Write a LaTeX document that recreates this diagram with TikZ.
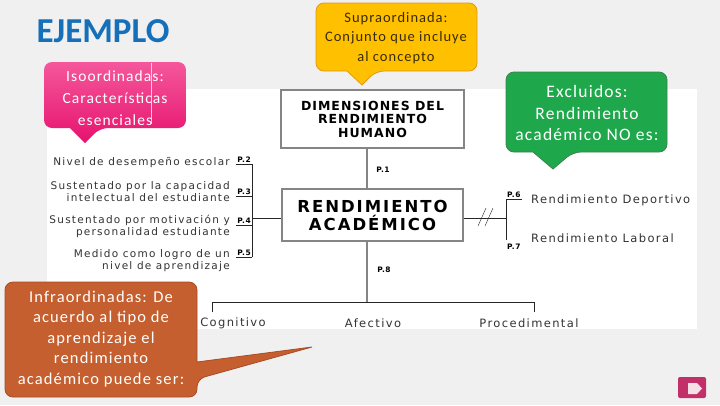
\documentclass[tikz,border=0pt]{standalone}
\usepackage{fontspec}
\setmainfont{Carlito}
\newfontfamily\callfont{Carlito}[LetterSpace=7]
\newfontfamily\headfont{DejaVu Sans}[LetterSpace=8]
\newfontfamily\bigheadfont{DejaVu Sans}[LetterSpace=12]
\newfontfamily\diagfont{DejaVu Sans}[LetterSpace=12]
\definecolor{bggray}{HTML}{F0F0F0}
\definecolor{titleblue}{HTML}{1570B9}
\definecolor{pinktop}{HTML}{F5579B}
\definecolor{pinkbot}{HTML}{E6136E}
\definecolor{supfill}{HTML}{FFC000}
\definecolor{supline}{HTML}{E39A12}
\definecolor{suptext}{HTML}{3A2A05}
\definecolor{excfill}{HTML}{1FA84B}
\definecolor{excline}{HTML}{3E8150}
\definecolor{inffill}{HTML}{C65F2F}
\definecolor{infline}{HTML}{A94C24}
\definecolor{framegray}{HTML}{858585}
\definecolor{nextpink}{HTML}{C2306A}
\begin{document}
\begin{tikzpicture}[x=1pt,y=-1pt,
  frame/.style={draw=framegray,line width=2.4pt,fill=white,align=center,inner sep=0pt},
  tag/.style={font=\headfont\bfseries\fontsize{7.5}{8}\selectfont,inner sep=1pt},
  lefttxt/.style={font=\diagfont\fontsize{10.5}{12}\selectfont,align=right,anchor=east,inner sep=0pt,text=black!80},
  righttxt/.style={font=\diagfont\fontsize{11.5}{12}\selectfont,inner sep=0pt,text=black!80},
  calltxt/.style={align=center,inner sep=0pt}]
% background and slide picture
\fill[bggray] (0,0) rectangle (720,405);
\fill[white] (47,89) rectangle (697,329);
\node[text=titleblue,font=\bfseries\fontsize{35}{38}\selectfont] (title) at (103,31) {EJEMPLO};

% central boxes
\node[frame,minimum width=183pt,minimum height=58pt,font=\headfont\bfseries\fontsize{12.5}{13.5}\selectfont] (dim) at (372.5,119) {DIMENSIONES DEL\\RENDIMIENTO\\HUMANO};
\node[frame,minimum width=181pt,minimum height=52pt,font=\bigheadfont\bfseries\fontsize{16.5}{18}\selectfont] (rend) at (372.5,215) {RENDIMIENTO\\ACADÉMICO};
\coordinate (bj) at (367,302);
\draw[framegray,line width=1.8pt] (dim.south -| bj) -- (rend.north -| bj);
\draw[framegray,line width=1.8pt] (rend.south -| bj) -- (bj);
\node[tag] (p1) at (383,170) {P.1};
\node[tag] (p8) at (384,270) {P.8};

% lower branch
\coordinate (cl) at (212,302);
\coordinate (cr) at (534,302);
\draw[black!85] (cl) ++(0,10) -- (cl) -- (cr) -- ++(0,10);
\node[righttxt] (cog) at (233,323) {Cognitivo};
\node[righttxt] (afe) at (373,323) {Afectivo};
\node[righttxt] (pro) at (529,323) {Procedimental};

% left branch
\coordinate (b2) at (252,164);
\coordinate (b3) at (252,196);
\coordinate (b4) at (252,225);
\coordinate (b5) at (252,257);
\coordinate (lj) at (252,218);
\draw[black!85] (b2) -- (b5);
\draw[black!85] (lj) -- (lj -| rend.west);
\foreach \n in {2,...,5}
{
    \node[tag,anchor=south east] (p\n) at (b\n) {P.\n};
    \draw[black!85] (p\n.south west) -- (b\n);
}
\node[lefttxt] (t2) at (230,163) {Nivel de desempeño escolar};
\node[lefttxt] (t3) at (230,192) {Sustentado por la capacidad\\intelectual del estudiante};
\node[lefttxt] (t4) at (230,226) {Sustentado por motivación y\\personalidad estudiante};
\node[lefttxt] (t5) at (230,261) {Medido como logro de un\\nivel de aprendizaje};

% right branch
\coordinate (b6) at (506,199);
\coordinate (b7) at (506,240);
\coordinate (rj) at (506,218);
\draw[black!85] (b6) -- (b7);
\draw[black!85] (rend.east |- rj) -- (rj);
\draw[black!85] (478,226) -- (486,208) (485,226) -- (493,208);
\node[tag,anchor=south west] (p6) at (b6) {P.6};
\draw[black!85] (b6) -- (p6.south east);
\node[tag,anchor=north west] (p7) at (506,243) {P.7};
\node[righttxt,anchor=west] (dep) at (531,200) {Rendimiento Deportivo};
\node[righttxt,anchor=west] (lab) at (531,238) {Rendimiento Laboral};

% callouts
\shade[top color=pinktop,bottom color=pinkbot] (85,143) -- (70,128) [rounded corners=8] -- (44,128) -- (44,62) -- (186,62) -- (186,128) -- (100,128) [sharp corners] -- cycle;
\draw[white!70!pinktop,line width=0.5pt] (151,63) -- (151,124);
\node[calltxt,text=white,font=\callfont\fontsize{15.5}{22}\selectfont] (iso) at (115,98) {Isoordinadas:\\Características\\esenciales};

\draw[supline,fill=supfill,line width=0.8pt] (362,85) -- (347,71) [rounded corners=8] -- (316,71) -- (316,3) -- (477,3) -- (477,71) -- (376,71) [sharp corners] -- cycle;
\node[calltxt,text=suptext,font=\callfont\fontsize{14.5}{19.5}\selectfont] (sup) at (396,38) {Supraordinada:\\Conjunto que incluye\\al concepto};

\draw[excline,fill=excfill,line width=0.8pt] (553,169) -- (533,152) [rounded corners=8] -- (506,152) -- (506,72) -- (667,72) -- (667,152) -- (573,152) [sharp corners] -- cycle;
\node[calltxt,text=white,font=\callfont\fontsize{17.5}{21.5}\selectfont] (exc) at (587,113) {Excluidos:\\Rendimiento\\académico NO es:};

\draw[infline,fill=inffill,line width=0.8pt] (312,347) -- (197,362) [rounded corners=8] -- (197,282) -- (5,282) -- (5,397) -- (197,397) -- (197,379) [sharp corners] -- cycle;
\node[calltxt,text=white,font=\callfont\fontsize{16.5}{20.5}\selectfont] (inf) at (101,339) {Infraordinadas: De\\acuerdo al tipo de\\aprendizaje el\\rendimiento\\académico puede ser:};

% next button
\fill[nextpink,rounded corners=2] (678,377) rectangle (706,398);
\fill[white,opacity=0.85] (688,383) -- (697,383) -- (702,388.5) -- (697,394) -- (688,394) -- cycle;
\end{tikzpicture}
\end{document}
